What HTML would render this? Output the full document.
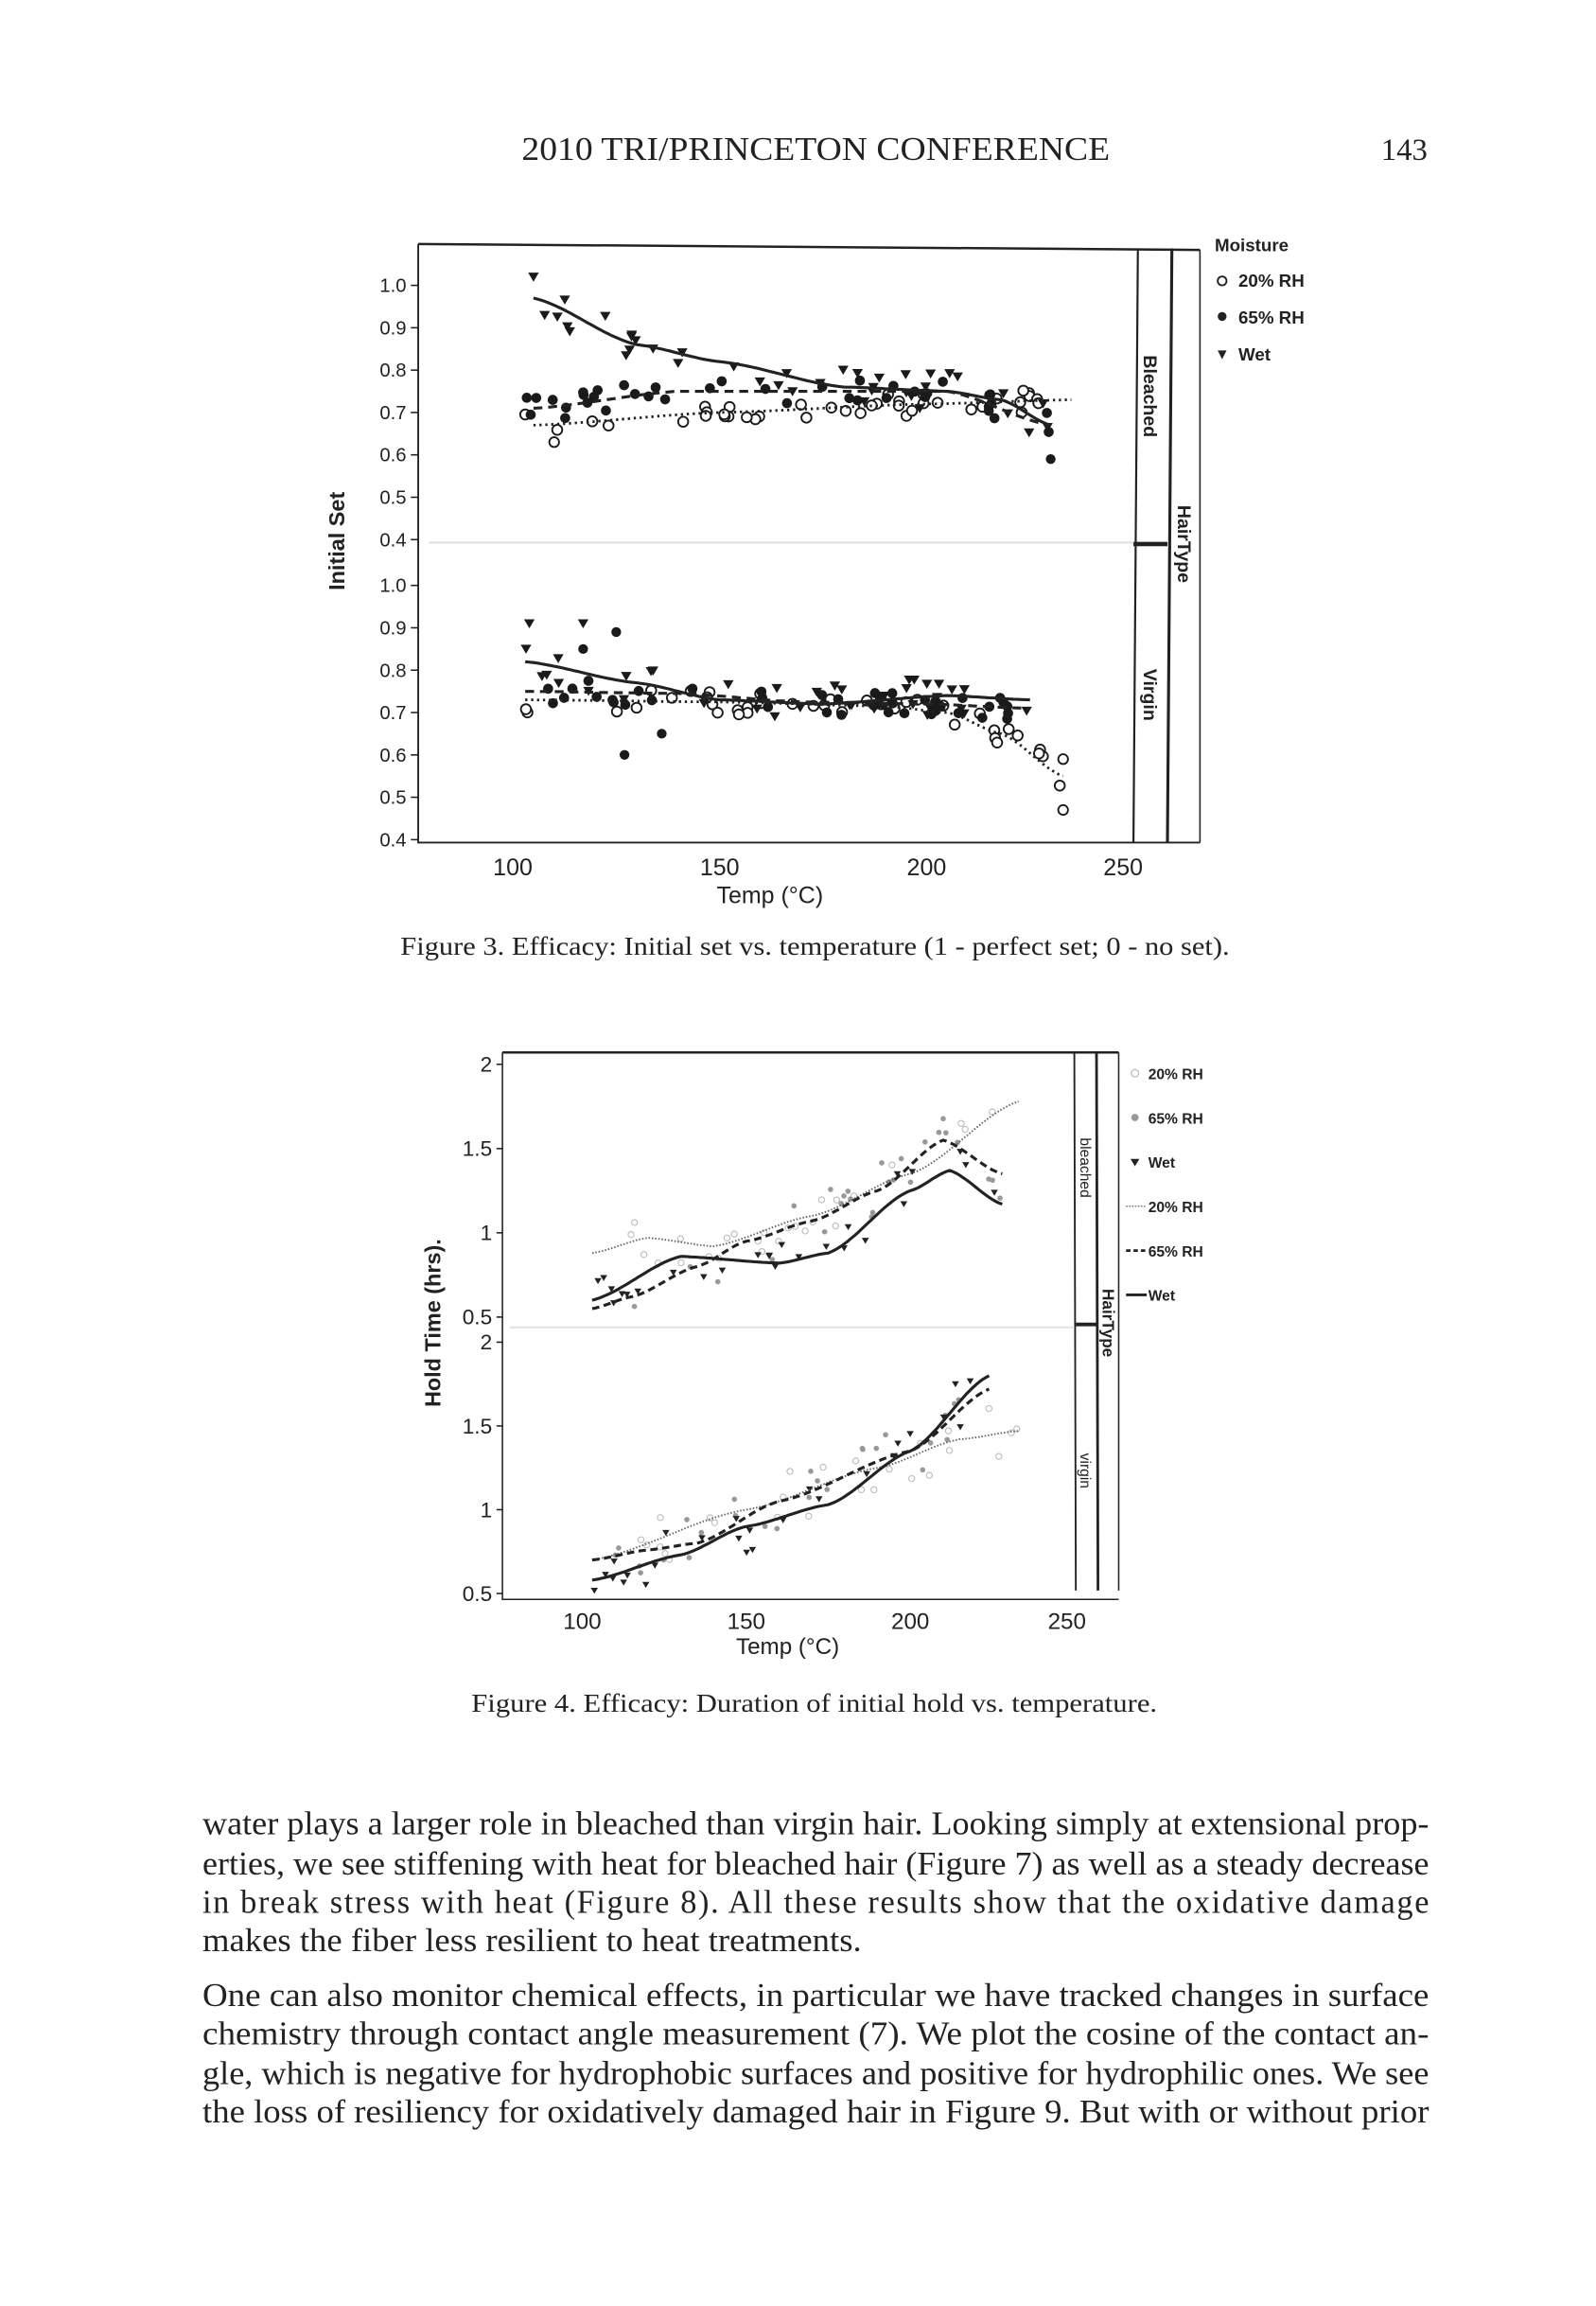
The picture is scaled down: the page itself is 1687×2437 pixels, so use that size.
<!DOCTYPE html>
<html><head><meta charset="utf-8">
<style>
html,body{margin:0;padding:0;background:#fff;}
svg{display:block;}
.s{font-family:"Liberation Sans",sans-serif;}
.r{font-family:"Liberation Serif",serif;}
</style></head>
<body>
<svg id="g" width="1687" height="2437" viewBox="0 0 1080 1560" xmlns="http://www.w3.org/2000/svg">
<rect width="1080" height="1560" fill="#fff"/>
<text class="r" x="353" y="108" font-size="22.5" fill="#222" textLength="398" lengthAdjust="spacingAndGlyphs">2010 TRI/PRINCETON CONFERENCE</text>
<text class="r" x="966" y="108" font-size="21" text-anchor="end" fill="#222">143</text>

<g stroke="#222" fill="none">
<path d="M283 165 L812 169" stroke-width="1.6"/>
<path d="M283 165 L283 570 L812 570" stroke-width="1.2"/>
<path d="M770 168 L767 570" stroke-width="1.4"/>
<path d="M793 168 L790 570" stroke-width="2"/>
<path d="M812 169 L812 570" stroke-width="1"/>
<path d="M767 368 L790 368" stroke-width="3"/>
</g>
<line x1="290" y1="367" x2="767" y2="367" stroke="#e2e2e2" stroke-width="1.5"/>
<g class="s" font-size="13" fill="#222" text-anchor="end" id="f3y"></g>
<g class="s" font-size="16" fill="#222" text-anchor="middle">
<text x="347" y="592">100</text><text x="487" y="592">150</text><text x="627" y="592">200</text><text x="760" y="592">250</text>
<text x="521" y="611">Temp (°C)</text>
</g>
<text class="s" font-size="15" font-weight="bold" fill="#222" transform="translate(233 366) rotate(-90)" text-anchor="middle">Initial Set</text>
<text class="s" font-size="12.5" font-weight="bold" fill="#222" transform="translate(774 268) rotate(90)" text-anchor="middle">Bleached</text>
<text class="s" font-size="12.5" font-weight="bold" fill="#222" transform="translate(774 470) rotate(90)" text-anchor="middle">Virgin</text>
<text class="s" font-size="12.5" font-weight="bold" fill="#222" transform="translate(797 368) rotate(90)" text-anchor="middle">HairType</text>
<g class="s" font-size="12" font-weight="bold" fill="#222">
<text x="822" y="170">Moisture</text>
<circle cx="827" cy="190" r="3" fill="#fff" stroke="#222" stroke-width="1.2"/><text x="838" y="194">20% RH</text>
<circle cx="827" cy="214" r="3" fill="#222"/><text x="838" y="219">65% RH</text>
<path d="M824 237 L830 237 L827 243 Z" fill="#222"/><text x="838" y="244">Wet</text>
</g>
<g id="f3"></g>
<text class="r" x="271" y="646" font-size="17.5" fill="#222" textLength="561" lengthAdjust="spacingAndGlyphs">Figure 3.  Efficacy: Initial set vs. temperature (1 - perfect set; 0 - no set).</text>

<g stroke="#222" fill="none">
<path d="M340 712 L757 712" stroke-width="1.6"/>
<path d="M340 712 L340 1082 L757 1082" stroke-width="1"/>
<path d="M727 712 L728 1076" stroke-width="1.2"/>
<path d="M742 712 L743 1076" stroke-width="1.8"/>
<path d="M757 712 L757 1076" stroke-width="1"/>
<path d="M728 896 L742 896" stroke-width="2.5"/>
</g>
<line x1="345" y1="898" x2="727" y2="898" stroke="#e6e6e6" stroke-width="1.5"/>
<g class="s" font-size="14.5" fill="#222" text-anchor="end" id="f4y"></g>
<g class="s" font-size="15.5" fill="#222" text-anchor="middle">
<text x="394" y="1102">100</text><text x="505" y="1102">150</text><text x="616" y="1102">200</text><text x="722" y="1102">250</text>
<text x="533" y="1119">Temp (°C)</text>
</g>
<text class="s" font-size="15" font-weight="bold" fill="#222" transform="translate(298 895) rotate(-90)" text-anchor="middle">Hold Time (hrs).</text>
<text class="s" font-size="10" fill="#222" transform="translate(731 790) rotate(90)" text-anchor="middle">bleached</text>
<text class="s" font-size="10" fill="#222" transform="translate(731 995) rotate(90)" text-anchor="middle">virgin</text>
<text class="s" font-size="11" font-weight="bold" fill="#222" transform="translate(746 895) rotate(90)" text-anchor="middle">HairType</text>
<g class="s" font-size="10" font-weight="bold" fill="#222">
<circle cx="768" cy="726" r="2.5" fill="#fff" stroke="#bbb" stroke-width="0.8"/><text x="777" y="730">20% RH</text>
<circle cx="768" cy="756" r="2.5" fill="#999"/><text x="777" y="760">65% RH</text>
<path d="M765 784 L771 784 L768 789 Z" fill="#222"/><text x="777" y="790">Wet</text>
<line x1="762" y1="816" x2="776" y2="816" stroke="#777" stroke-width="1" stroke-dasharray="1 1"/><text x="777" y="820">20% RH</text>
<line x1="762" y1="846" x2="776" y2="846" stroke="#222" stroke-width="1.8" stroke-dasharray="3 2"/><text x="777" y="850">65% RH</text>
<line x1="762" y1="876" x2="776" y2="876" stroke="#222" stroke-width="1.8"/><text x="777" y="880">Wet</text>
</g>
<g id="f4"></g>
<text class="r" x="319" y="1158" font-size="17.5" fill="#222" textLength="464" lengthAdjust="spacingAndGlyphs">Figure 4.  Efficacy: Duration of initial hold vs. temperature.</text>

<g class="r" font-size="22" fill="#222">
<text x="137" y="1241" textLength="830" lengthAdjust="spacingAndGlyphs">water plays a larger role in bleached than virgin hair. Looking simply at extensional prop-</text>
<text x="137" y="1268" textLength="830" lengthAdjust="spacingAndGlyphs">erties, we see stiffening with heat for bleached hair (Figure 7) as well as a steady decrease</text>
<text x="137" y="1294" textLength="830" lengthAdjust="spacing">in break stress with heat (Figure 8). All these results show that the oxidative damage</text>
<text x="137" y="1320" textLength="446" lengthAdjust="spacingAndGlyphs">makes the fiber less resilient to heat treatments.</text>
<text x="137" y="1357" textLength="830" lengthAdjust="spacingAndGlyphs">One can also monitor chemical effects, in particular we have tracked changes in surface</text>
<text x="137" y="1383" textLength="830" lengthAdjust="spacingAndGlyphs">chemistry through contact angle measurement (7). We plot the cosine of the contact an-</text>
<text x="137" y="1410" textLength="830" lengthAdjust="spacingAndGlyphs">gle, which is negative for hydrophobic surfaces and positive for hydrophilic ones. We see</text>
<text x="137" y="1436" textLength="830" lengthAdjust="spacingAndGlyphs">the loss of resiliency for oxidatively damaged hair in Figure 9. But with or without prior</text>
</g>
</svg>
<script>
(function(){
var NS="http://www.w3.org/2000/svg";
function el(p,t,a){var e=document.createElementNS(NS,t);for(var k in a)e.setAttribute(k,a[k]);p.appendChild(e);return e;}
var seed=7;function rnd(){seed=(seed*16807)%2147483647;return seed/2147483647;}
function interp(pts,x){if(x<=pts[0][0])return pts[0][1];for(var i=0;i<pts.length-1;i++){var a=pts[i],b=pts[i+1];if(x<=b[0]){var t=(x-a[0])/(b[0]-a[0]);t=t*t*(3-2*t)*0.5+t*0.5;return a[1]+(b[1]-a[1])*t;}}return pts[pts.length-1][1];}
function curve(g,pts,X,Y,style){var d="";var x0=pts[0][0],x1=pts[pts.length-1][0];for(var x=x0;x<=x1+0.01;x+=1){d+=(d?"L":"M")+X(x).toFixed(1)+" "+Y(interp(pts,x)).toFixed(1);}var a={d:d,fill:"none"};for(var k in style)a[k]=style[k];el(g,"path",a);}
var fy=document.getElementById("f3y");
function Y3top(v){return 193+(1.0-v)/0.6*172;}
function Y3bot(v){return 396+(1.0-v)/0.6*172;}
[1.0,0.9,0.8,0.7,0.6,0.5,0.4].forEach(function(v){[Y3top,Y3bot].forEach(function(F){var y=F(v);el(fy,"text",{x:275,y:y+4.5}).textContent=v.toFixed(1);el(fy,"line",{x1:278,x2:283,y1:y,y2:y,stroke:"#222"});});});
function X3(t){return 347+(t-100)*2.8;}
var g3=document.getElementById("f3");
function markers(g,type,x,y,s,col){if(type==0)el(g,"circle",{cx:x,cy:y,r:s,fill:"#fff",stroke:col,"stroke-width":1.2});else if(type==1)el(g,"circle",{cx:x,cy:y,r:s,fill:col});else el(g,"path",{d:"M"+(x-s)+" "+(y-s*0.8)+"L"+(x+s)+" "+(y-s*0.8)+"L"+x+" "+(y+s*0.9)+"Z",fill:col});}
var sets3=[
 {Y:Y3top,c:[
  [[105,0.67],[150,0.70],[200,0.72],[235,0.73]],
  [[105,0.71],[140,0.75],[170,0.75],[205,0.75],[230,0.67]],
  [[105,0.97],[130,0.86],[150,0.82],[180,0.76],[205,0.75],[218,0.73],[230,0.67]]]},
 {Y:Y3bot,c:[
  [[103,0.73],[150,0.725],[190,0.715],[205,0.70],[218,0.65],[233,0.55]],
  [[103,0.75],[140,0.745],[170,0.725],[200,0.72],[225,0.71]],
  [[103,0.82],[130,0.77],[150,0.73],[175,0.72],[205,0.74],[225,0.73]]]}];
var st3=[{stroke:"#222","stroke-width":1.8,"stroke-dasharray":"1.5 2.5"},{stroke:"#222","stroke-width":2,"stroke-dasharray":"6 4"},{stroke:"#222","stroke-width":2}];
sets3.forEach(function(S,si){S.c.forEach(function(pts,k){var x1=pts[pts.length-1][0];for(var i=0;i<40;i++){var t=103+rnd()*(x1-103);var v=interp(pts,t)+(rnd()-0.5)*(k==2?0.09:0.06);markers(g3,k,X3(t),S.Y(v),k==2?3.6:3.4,"#1a1a1a");}});
 S.c.forEach(function(pts,k){curve(g3,pts,X3,S.Y,st3[k]);});});
markers(g3,2,X3(105),Y3top(1.02),3.6,"#1a1a1a");markers(g3,1,X3(230),Y3top(0.59),3.3,"#1a1a1a");markers(g3,0,X3(233),Y3bot(0.47),3.3,"#1a1a1a");markers(g3,0,X3(233),Y3bot(0.59),3.3,"#1a1a1a");markers(g3,1,X3(127),Y3bot(0.60),3.3,"#1a1a1a");markers(g3,0,X3(110),Y3top(0.63),3.3,"#1a1a1a");
markers(g3,2,X3(104),Y3bot(0.91),3.6,"#1a1a1a");markers(g3,2,X3(117),Y3bot(0.91),3.6,"#1a1a1a");markers(g3,1,X3(125),Y3bot(0.89),3.3,"#1a1a1a");markers(g3,1,X3(117),Y3bot(0.85),3.3,"#1a1a1a");markers(g3,1,X3(136),Y3bot(0.65),3.3,"#1a1a1a");
var fy4=document.getElementById("f4y");
function Y4top(v){return 720+(2-v)/1.5*171;}
function Y4bot(v){return 908+(2-v)/1.5*170;}
[[2,"2"],[1.5,"1.5"],[1,"1"],[0.5,"0.5"]].forEach(function(p){[Y4top,Y4bot].forEach(function(F){var y=F(p[0]);el(fy4,"text",{x:333,y:y+5}).textContent=p[1];el(fy4,"line",{x1:336,x2:340,y1:y,y2:y,stroke:"#222"});});});
function X4(t){return 394+(t-100)*2.22;}
var g4=document.getElementById("f4");
var sets4=[
 {Y:Y4top,c:[
  [[103,0.88],[120,0.97],[140,0.92],[170,1.1],[200,1.35],[233,1.78]],
  [[103,0.55],[115,0.62],[135,0.8],[150,0.95],[170,1.07],[190,1.25],[210,1.55],[228,1.35]],
  [[103,0.6],[130,0.86],[160,0.82],[175,0.88],[200,1.25],[212,1.37],[228,1.17]]]},
 {Y:Y4bot,c:[
  [[103,0.7],[150,1.0],[190,1.25],[215,1.42],[233,1.47]],
  [[103,0.7],[120,0.76],[135,0.8],[160,1.05],[200,1.35],[224,1.72]],
  [[103,0.58],[130,0.73],[150,0.9],[175,1.03],[200,1.35],[224,1.8]]]}];
var st4=[{stroke:"#666","stroke-width":1.2,"stroke-dasharray":"1 1.2"},{stroke:"#222","stroke-width":2,"stroke-dasharray":"5 3"},{stroke:"#222","stroke-width":2}];
sets4.forEach(function(S){S.c.forEach(function(pts,k){var x1=pts[pts.length-1][0];for(var i=0;i<26;i++){var t=103+rnd()*(x1-103);var v=interp(pts,t)+(rnd()-0.5)*0.32;var y=S.Y(v);if(k==0)el(g4,"circle",{cx:X4(t),cy:y,r:2,fill:"#fff",stroke:"#bbb","stroke-width":0.7});else if(k==1)el(g4,"circle",{cx:X4(t),cy:y,r:1.8,fill:"#999"});else markers(g4,2,X4(t),y,2.4,"#222");}});
 S.c.forEach(function(pts,k){curve(g4,pts,X4,S.Y,st4[k]);});});
})();
</script>
</body></html>
